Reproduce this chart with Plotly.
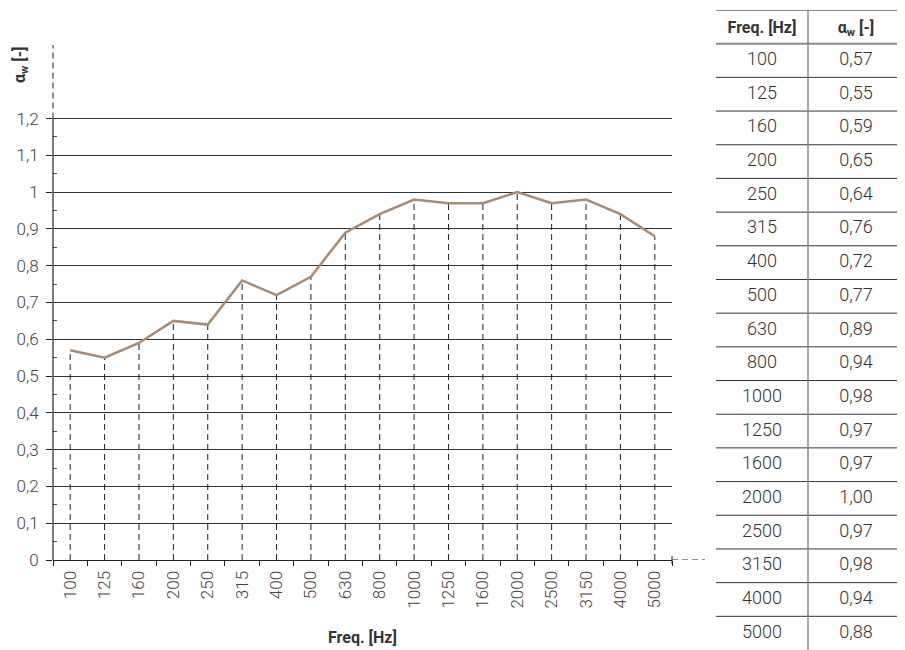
import plotly.graph_objects as go

freqs = ["100", "125", "160", "200", "250", "315", "400", "500", "630", "800",
         "1000", "1250", "1600", "2000", "2500", "3150", "4000", "5000"]
alpha = [0.57, 0.55, 0.59, 0.65, 0.64, 0.76, 0.72, 0.77, 0.89, 0.94,
         0.98, 0.97, 0.97, 1.00, 0.97, 0.98, 0.94, 0.88]
y_ticks = [0.0, 0.1, 0.2, 0.3, 0.4, 0.5, 0.6, 0.7, 0.8, 0.9, 1.0, 1.1, 1.2]
header = ["Freq. [Hz]", "α<sub>w</sub> [-]"]

# page body has an 8px margin: build the figure so it fills the rest of the window
OFF = 8
W, H = 905 - OFF, 650 - OFF
FONT = "Roboto"
TXT = "#333333"
LINE_COL = "#a88b72"


def px(xr):
    return (xr - OFF) / W


def py(yr):
    return 1 - (yr - OFF) / H


# main plot frame in reference pixels
px_l, px_r = 53, 672
px_bot, px_top = 560, 45
ymax = 1.4

fig = go.Figure()

# dashed drop lines
dx, dy = [], []
for f, a in zip(freqs, alpha):
    dx += [f, f, None]
    dy += [0, a, None]
fig.add_trace(go.Scatter(x=dx, y=dy, mode="lines",
                         line=dict(color="#222222", width=1, dash="6px,4px"),
                         hoverinfo="skip", showlegend=False))
# main curve
fig.add_trace(go.Scatter(x=freqs, y=alpha, mode="lines",
                         line=dict(color=LINE_COL, width=2.5),
                         showlegend=False))

# table as text traces on a second axis pair (x2 in reference pixels)
n_rows = len(freqs) + 1
col_x = [762, 856]
tx, ty, tt = [], [], []
for i, (f, a) in enumerate(zip(freqs, alpha)):
    tx += [col_x[0], col_x[1]]
    ty += [i + 1.5, i + 1.5]
    tt += [f, f"{a:.2f}".replace(".", ",")]
fig.add_trace(go.Scatter(x=tx, y=ty, text=tt, mode="text", xaxis="x2", yaxis="y2",
                         textfont=dict(family=FONT, size=18, color=TXT, weight=300),
                         hoverinfo="skip", showlegend=False))
fig.add_trace(go.Scatter(x=col_x, y=[0.55, 0.55], text=[f"<b>{h}</b>" for h in header],
                         mode="text", xaxis="x2", yaxis="y2",
                         textfont=dict(family=FONT, size=16, color=TXT),
                         hoverinfo="skip", showlegend=False))

shapes = []
for r in range(n_rows):
    if r <= 1:
        ln = dict(color="#8a8a8a", width=2)
    else:
        ln = dict(color="#333333", width=1)
    shapes.append(dict(type="line", xref="x2", yref="y2", x0=716, x1=905, y0=r, y1=r, line=ln))
shapes.append(dict(type="line", xref="x2", yref="y2", x0=808, x1=808, y0=0, y1=n_rows,
                   line=dict(color="#8a8a8a", width=1.5)))

# y axis line: solid to 1.2, dashed above
shapes.append(dict(type="line", xref="x domain", yref="y", x0=0, x1=0, y0=0, y1=y_ticks[-1],
                   line=dict(color="#222222", width=1.2)))
shapes.append(dict(type="line", xref="x domain", yref="y", x0=0, x1=0, y0=y_ticks[-1], y1=ymax,
                   line=dict(color="#222222", width=1, dash="6px,4px")))
# x axis dashed extension and end tick
shapes.append(dict(type="line", xref="paper", yref="y", x0=px(px_r), x1=px(705), y0=0, y1=0,
                   line=dict(color="#222222", width=1, dash="6px,4px")))
shapes.append(dict(type="line", xref="x domain", yref="paper", x0=1, x1=1,
                   y0=py(px_bot + 4), y1=py(px_bot - 4),
                   line=dict(color="#222222", width=1)))

fig.update_layout(
    width=W, height=H,
    margin=dict(l=0, r=0, t=0, b=0),
    paper_bgcolor="white", plot_bgcolor="white",
    font=dict(family=FONT, color=TXT),
    shapes=shapes,
    xaxis=dict(
        domain=[px(px_l), px(px_r)], type="category",
        range=[-0.5, len(freqs) - 0.5],
        tickson="boundaries", ticks="outside", ticklen=5, tickcolor="#222222",
        tickangle=-90, ticklabelstandoff=3,
        tickfont=dict(family=FONT, size=17, color="#444444", weight=300),
        showgrid=False, zeroline=False,
        showline=True, linecolor="#222222", linewidth=1.2,
        automargin=False, fixedrange=True,
    ),
    yaxis=dict(
        domain=[py(px_bot), py(px_top)],
        range=[0, ymax],
        tickvals=y_ticks, ticktext=[("%g" % v).replace(".", ",") for v in y_ticks],
        ticks="outside", ticklen=6, tickcolor="#222222", ticklabelstandoff=4,
        tickfont=dict(family=FONT, size=17, color="#444444", weight=300),
        showgrid=True, gridcolor="#333333", gridwidth=1,
        zeroline=False, showline=False,
        minor=dict(tickvals=[v + 0.05 for v in y_ticks[:-1]], ticks="inside",
                   ticklen=4, tickcolor="#555555", showgrid=False),
        automargin=False, fixedrange=True,
    ),
    xaxis2=dict(domain=[px(716), 1], range=[716, 905], visible=False, fixedrange=True),
    yaxis2=dict(domain=[0, py(10)], range=[n_rows, 0], visible=False, fixedrange=True),
    annotations=[
        dict(text="<b>Freq. [Hz]</b>", xref="paper", yref="paper",
             x=px((px_l + px_r) / 2), y=py(637), xanchor="center", yanchor="middle",
             showarrow=False, font=dict(family=FONT, size=16, color=TXT)),
        dict(text="<b>α<sub>w</sub> [-]</b>", xref="paper", yref="paper",
             x=px(21), y=py(65), xanchor="center", yanchor="middle",
             showarrow=False, textangle=-90,
             font=dict(family=FONT, size=16, color=TXT)),
    ],
)

fig.write_html("out.html")
